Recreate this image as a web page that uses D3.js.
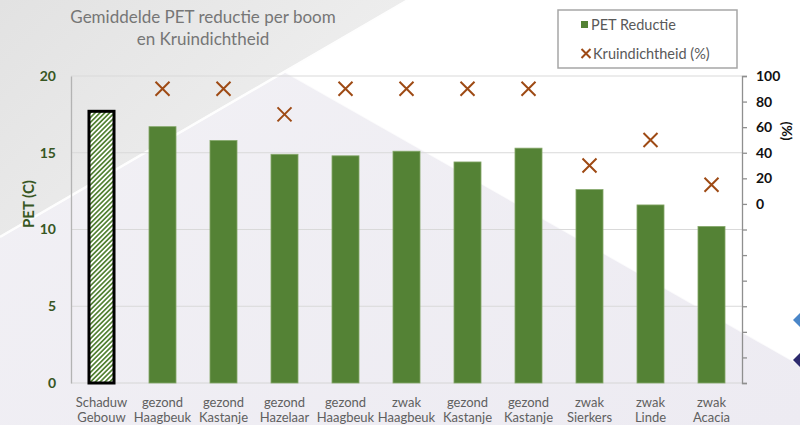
<!DOCTYPE html>
<html>
<head>
<meta charset="utf-8">
<script src="https://cdn.jsdelivr.net/npm/d3@7"></script>
<style>
  html, body { margin: 0; padding: 0; background: #ffffff; }
  svg { display: block; font-family: Lato, "Open Sans", sans-serif; }
</style>
</head>
<body>
<div id="chart"></div>
<script>
// Chart data
const categories = [
  "Schaduw\nGebouw", "gezond\nHaagbeuk", "gezond\nKastanje", "gezond\nHazelaar",
  "gezond\nHaagbeuk", "zwak\nHaagbeuk", "gezond\nKastanje", "gezond\nKastanje",
  "zwak\nSierkers", "zwak\nLinde", "zwak\nAcacia"
];
const petReductie = [17.7, 16.7, 15.8, 14.9, 14.8, 15.1, 14.4, 15.3, 12.6, 11.6, 10.2];
const kruindichtheid = [null, 90, 90, 70, 90, 90, 90, 90, 30, 50, 15];
const petTicks = [0, 5, 10, 15, 20];
const pctTicks = [100, 80, 60, 40, 20, 0, -20, -40, -60, -80, -100, -120, -140];
const pctTickLabels = ["100", "80", "60", "40", "20", "0", "", "", "", "", "", "", ""];
const titleLines = ["Gemiddelde PET reductie per boom", "en Kruindichtheid"];
const legendLabels = ["PET Reductie", "Kruindichtheid (%)"];
const leftAxisTitle = "PET (C)";
const rightAxisTitle = "(%)";

const W = 800, H = 425;
const plot = { left: 71, right: 742, top: 76, bottom: 383 };
const barColor = "#548235";
const crossColor = "#9e4a14";

const svg = d3.select("#chart").append("svg")
  .attr("width", W).attr("height", H);

const defs = svg.append("defs");

// Slide background: soft grey facets
const gGrey = defs.append("linearGradient").attr("id", "greyFacet")
  .attr("x1", "0%").attr("y1", "0%").attr("x2", "100%").attr("y2", "60%");
gGrey.append("stop").attr("offset", "0%").attr("stop-color", "#e2e2e2");
gGrey.append("stop").attr("offset", "100%").attr("stop-color", "#f1f1f1");

const gLav = defs.append("linearGradient").attr("id", "lavFacet")
  .attr("x1", "0%").attr("y1", "0%").attr("x2", "100%").attr("y2", "100%");
gLav.append("stop").attr("offset", "0%").attr("stop-color", "#f2f1f5");
gLav.append("stop").attr("offset", "100%").attr("stop-color", "#edebf2");

// Diagonal hatch for the reference bar
const hatch = defs.append("pattern").attr("id", "hatch")
  .attr("patternUnits", "userSpaceOnUse")
  .attr("width", 3.4).attr("height", 3.4)
  .attr("patternTransform", "rotate(45)");
hatch.append("rect").attr("width", 3.4).attr("height", 3.4).attr("fill", "#ffffff");
hatch.append("rect").attr("width", 1.7).attr("height", 3.4).attr("fill", barColor);

const bg = svg.append("g");
bg.append("rect").attr("width", W).attr("height", H).attr("fill", "url(#lavFacet)");
bg.append("polygon").attr("points", "408,0 800,0 800,365 285,72").attr("fill", "#ffffff");
bg.append("polygon").attr("points", "0,0 408,0 0,237").attr("fill", "url(#greyFacet)");
bg.append("line").attr("x1", 0).attr("y1", 237).attr("x2", 408).attr("y2", 0)
  .attr("stroke", "#ffffff").attr("stroke-width", 2.5).attr("opacity", 0.95);
bg.append("line").attr("x1", 285).attr("y1", 72).attr("x2", 800).attr("y2", 365)
  .attr("stroke", "#ffffff").attr("stroke-width", 1.5).attr("opacity", 0.7);
bg.append("polygon").attr("points", "793,320 800,313 800,327").attr("fill", "#4a86c8");
bg.append("polygon").attr("points", "793,360 800,353 800,367").attr("fill", "#2d2a6e");

// Scales
const x = d3.scaleBand()
  .domain(d3.range(categories.length))
  .range([plot.left, plot.right])
  .paddingInner(0.557)
  .paddingOuter(0.2785);
const yL = d3.scaleLinear().domain([0, 20]).range([plot.bottom, plot.top]);
const yR = d3.scaleLinear().domain([-140, 100]).range([plot.bottom, plot.top]);

// Gridlines
svg.append("g").selectAll("line")
  .data(petTicks.filter(d => d > 0))
  .join("line")
  .attr("x1", plot.left).attr("x2", plot.right)
  .attr("y1", d => yL(d)).attr("y2", d => yL(d))
  .attr("stroke", "#d9d9d9").attr("stroke-width", 1.2);

// Category baseline
svg.append("line")
  .attr("x1", plot.left).attr("x2", plot.right)
  .attr("y1", yL(0)).attr("y2", yL(0))
  .attr("stroke", "#d6d6d6").attr("stroke-width", 1.2);

// Left axis
const axL = svg.append("g")
  .attr("transform", `translate(${plot.left},0)`)
  .call(d3.axisLeft(yL).tickValues(petTicks).tickSize(0).tickPadding(15));
axL.select(".domain").attr("stroke", "#b3b3b3").attr("stroke-width", 1.3);
axL.selectAll("text")
  .attr("fill", "#375623").attr("font-size", 14).attr("font-weight", "bold")
  .attr("font-family", "Lato, 'Open Sans', sans-serif");

// Right axis
const axR = svg.append("g")
  .attr("transform", `translate(${plot.right},0)`)
  .call(d3.axisRight(yR).tickValues(pctTicks).tickSize(5).tickSizeOuter(5)
    .tickPadding(9).tickFormat((d, i) => pctTickLabels[i]));
axR.select(".domain").attr("stroke", "#8f8f8f").attr("stroke-width", 1.3);
axR.selectAll(".tick line").attr("stroke", "#8f8f8f").attr("stroke-width", 1.3);
axR.selectAll("text")
  .attr("fill", "#111111").attr("font-size", 14).attr("font-weight", "bold")
  .attr("font-family", "Lato, 'Open Sans', sans-serif");

// Axis titles
svg.append("text")
  .attr("transform", "translate(28,204) rotate(-90)")
  .attr("text-anchor", "middle").attr("dominant-baseline", "central")
  .attr("fill", "#375623").attr("font-size", 15).attr("font-weight", "bold")
  .text(leftAxisTitle);
svg.append("text")
  .attr("transform", "translate(787,131) rotate(90)")
  .attr("text-anchor", "middle").attr("dominant-baseline", "central")
  .attr("fill", "#111111").attr("font-size", 14).attr("font-weight", "bold")
  .text(rightAxisTitle);

// Bars
svg.append("g").selectAll("rect")
  .data(petReductie)
  .join("rect")
  .attr("x", (d, i) => x(i) + (i === 0 ? 1 : 0))
  .attr("width", (d, i) => x.bandwidth() - (i === 0 ? 2 : 0))
  .attr("y", d => yL(d))
  .attr("height", d => yL(0) - yL(d))
  .attr("fill", (d, i) => i === 0 ? "url(#hatch)" : barColor)
  .attr("stroke", (d, i) => i === 0 ? "#000000" : "#86a86b")
  .attr("stroke-width", (d, i) => i === 0 ? 3 : 0.8);

// Crown density markers
const cross = "M-7,-7L7,7M7,-7L-7,7";
svg.append("g").selectAll("path")
  .data(kruindichtheid.map((v, i) => ({ v, i })).filter(d => d.v !== null))
  .join("path")
  .attr("transform", d => `translate(${x(d.i) + x.bandwidth() / 2},${yR(d.v)})`)
  .attr("d", cross)
  .attr("stroke", crossColor).attr("stroke-width", 2).attr("fill", "none");

// Category labels (two lines)
const catG = svg.append("g").attr("font-size", 13).attr("fill", "#606060")
  .attr("text-anchor", "middle");
categories.forEach((c, i) => {
  const lines = c.split("\n");
  const cx = x(i) + x.bandwidth() / 2;
  lines.forEach((ln, j) => {
    catG.append("text").attr("x", cx).attr("y", 407 + j * 15).text(ln);
  });
});

// Title
svg.append("g").attr("fill", "#767676").attr("font-size", 17).attr("text-anchor", "middle")
  .selectAll("text").data(titleLines).join("text")
  .attr("x", 203).attr("y", (d, i) => 23 + i * 22)
  .text(d => d);

// Legend
const lg = svg.append("g");
lg.append("rect").attr("x", 558).attr("y", 10).attr("width", 179).attr("height", 58)
  .attr("fill", "#ffffff").attr("stroke", "#a6a6a6").attr("stroke-width", 1.5);
lg.append("rect").attr("x", 581).attr("y", 21).attr("width", 7).attr("height", 7)
  .attr("fill", barColor);
lg.append("path").attr("transform", "translate(586,53.5)")
  .attr("d", "M-4.5,-4.5L4.5,4.5M4.5,-4.5L-4.5,4.5")
  .attr("stroke", crossColor).attr("stroke-width", 2).attr("fill", "none");
lg.selectAll("text.lgt").data(legendLabels).join("text")
  .attr("class", "lgt")
  .attr("x", (d, i) => i === 0 ? 591 : 593)
  .attr("y", (d, i) => i === 0 ? 30 : 58.5)
  .attr("font-size", 14.5).attr("fill", "#595959")
  .text(d => d);
</script>
</body>
</html>
